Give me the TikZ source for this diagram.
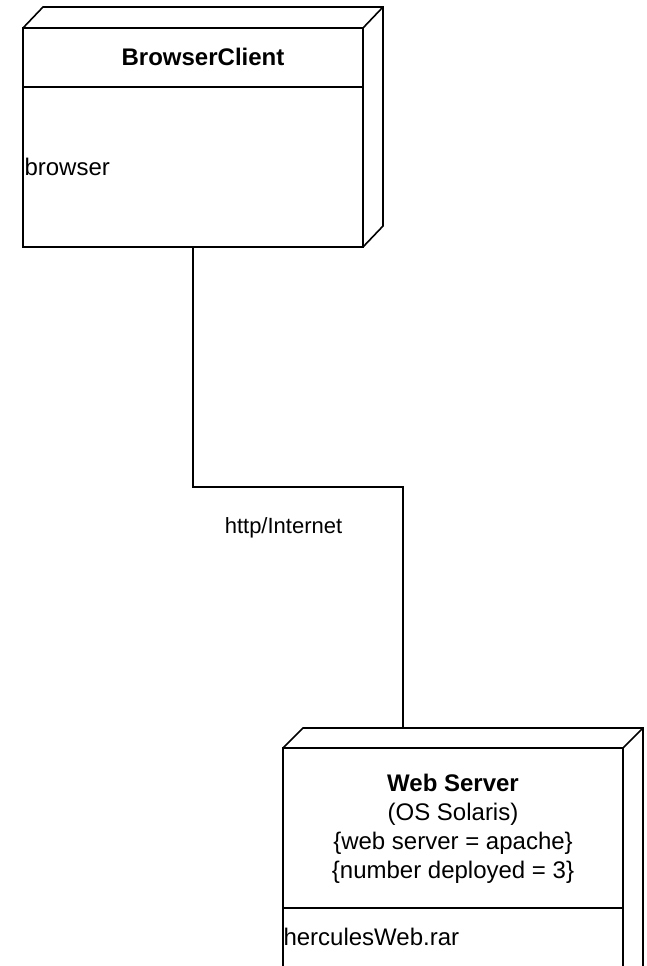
\documentclass[tikz,border=0pt]{standalone}
\usepackage{fontspec}
\setmainfont{Liberation Sans}
\usetikzlibrary{calc,positioning}
\tikzset{
  nodebox/.style={draw, line width=1.6pt, inner sep=0pt, outer sep=0pt},
  depth/.style={line width=1.6pt},
  wire/.style={line width=1.6pt},
  big/.style={font=\fontsize{24}{29}\selectfont},
  small/.style={font=\fontsize{22}{26}\selectfont}
}

\begin{document}
\begin{tikzpicture}[x=1pt, y=-1pt]
			%%%%% START %%%%%
			
			\useasboundingbox (0, 0) rectangle (646, 966);
			\clip (0, 0) rectangle (646, 966);
			
			% BrowserClient
			\node[nodebox, minimum width=340pt, minimum height=219pt] (client) at (193, 137.5) {};
			\draw[depth] (client.north west) -- ++(20, -21) -| ($(client.south east)+(20, -21)$) -- (client.south east);
			\draw[depth] (client.north east) -- ++(20, -21);
			\draw[depth] (client.west |- 0, 87) -- (client.east |- 0, 87);
			\node[big, font=\fontsize{24}{29}\selectfont\bfseries] (clientname) at (203, 57) {BrowserClient};
			\node[big, anchor=west] (clientart) at (21, 167) {browser};
			
			% Web Server
			\node[nodebox, minimum width=340pt, minimum height=300pt, anchor=north west] (server) at (283, 748) {};
			\draw[depth] (server.north west) -- ++(20, -20) -- ($(server.north east)+(20, -20)$) -- ++(0, 320);
			\draw[depth] (server.north east) -- ++(20, -20);
			\draw[depth] (server.west |- 0, 908) -- (server.east |- 0, 908);
			\node[big, align=center] (servername) at (453, 828.5) {\textbf{Web Server}\\(OS Solaris)\\\{web server = apache\}\\\{number deployed = 3\}};
			\node[big, anchor=west] (serverart) at (280, 937) {herculesWeb.rar};
			
			% connector
			\coordinate (srvtop) at (403, 728);
			\draw[wire] (client.south) -- ++(0, 240) -| (srvtop);
			\node[small] (wirelabel) at (283.5, 528) {http/Internet};
			
			%%%%% END %%%%%
		\end{tikzpicture}
\end{document}
